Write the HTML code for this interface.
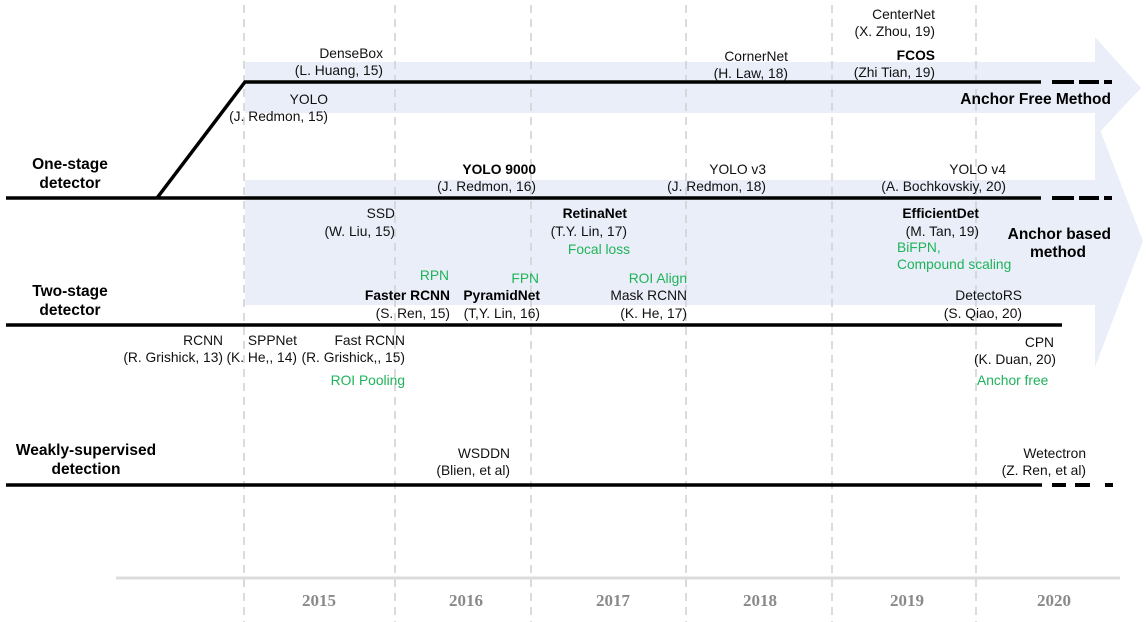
<!DOCTYPE html>
<html><head><meta charset="utf-8"><style>
html,body{margin:0;padding:0;background:#fff;}
svg{display:block;font-family:"Liberation Sans","Noto Sans CJK KR",sans-serif;}
.t{font-size:13.8px;fill:#111;}
.b{font-size:13.8px;font-weight:bold;fill:#000;}
.g{font-size:13.8px;fill:#1fb35a;}
.h{font-size:15.5px;font-weight:bold;fill:#000;}
.y{font-family:"Liberation Serif",serif;font-size:17px;font-weight:bold;fill:#8a8a8a;}
</style></head><body>
<svg width="1146" height="622" viewBox="0 0 1146 622">
<g fill="#e9eef8">
<polygon points="245,62 1095,62 1095,37 1141,88 1095,137 1095,113 245,113"/>
<polygon points="245,180 1095,180 1095,117 1143,241 1095,367 1095,305 245,305"/>
</g>
<g stroke="#cfcfcf" stroke-width="1.5" stroke-dasharray="8,6">
<line x1="244" y1="5" x2="244" y2="622"/><line x1="395" y1="5" x2="395" y2="622"/>
<line x1="531" y1="5" x2="531" y2="622"/><line x1="686" y1="5" x2="686" y2="622"/>
<line x1="832" y1="5" x2="832" y2="622"/><line x1="976" y1="5" x2="976" y2="622"/>
</g>
<g stroke="#000" stroke-width="3.5" fill="none">
<polyline points="157,198 245,82 1041,82"/>
<line x1="6" y1="198" x2="1041" y2="198"/>
<line x1="6" y1="325" x2="1062" y2="325"/>
<line x1="6" y1="485" x2="1042" y2="485"/>
</g>
<g stroke="#000" stroke-width="4">
<line x1="1052" y1="82" x2="1074" y2="82"/><line x1="1079" y1="82" x2="1099" y2="82"/><line x1="1104" y1="82" x2="1112" y2="82"/>
<line x1="1052" y1="198" x2="1074" y2="198"/><line x1="1079" y1="198" x2="1099" y2="198"/><line x1="1104" y1="198" x2="1112" y2="198"/>
<line x1="1052" y1="485" x2="1066" y2="485"/><line x1="1075" y1="485" x2="1090" y2="485"/><line x1="1105" y1="485" x2="1113" y2="485"/>
</g>
<line x1="116" y1="578" x2="1120" y2="578" stroke="#dcdcdc" stroke-width="3"/>
<g text-anchor="middle">
<text class="h" x="70" y="169">One-stage</text><text class="h" x="70" y="188">detector</text>
<text class="h" x="70" y="296">Two-stage</text><text class="h" x="70" y="315">detector</text>
<text class="h" x="86" y="455">Weakly-supervised</text><text class="h" x="86" y="474">detection</text>
</g>
<g text-anchor="end">
<text class="t" x="383" y="58">DenseBox</text><text class="t" x="383" y="75">(L. Huang, 15)</text>
<text class="t" x="328" y="104">YOLO</text><text class="t" x="328" y="121">(J. Redmon, 15)</text>
<text class="t" x="788" y="61">CornerNet</text><text class="t" x="788" y="78">(H. Law, 18)</text>
<text class="t" x="935" y="19">CenterNet</text><text class="t" x="935" y="36">(X. Zhou, 19)</text>
<text class="b" x="935" y="60">FCOS</text><text class="t" x="935" y="77">(Zhi Tian, 19)</text>
<text class="h" x="1111" y="104">Anchor Free Method</text>
<text class="b" x="536" y="174">YOLO 9000</text><text class="t" x="536" y="191">(J. Redmon, 16)</text>
<text class="t" x="766" y="174">YOLO v3</text><text class="t" x="766" y="191">(J. Redmon, 18)</text>
<text class="t" x="1006" y="174">YOLO v4</text><text class="t" x="1006" y="191">(A. Bochkovskiy, 20)</text>
<text class="t" x="395" y="218">SSD</text><text class="t" x="395" y="236">(W. Liu, 15)</text>
<text class="b" x="627" y="218">RetinaNet</text><text class="t" x="627" y="236">(T.Y. Lin, 17)</text>
<text class="g" x="630" y="254">Focal loss</text>
<text class="b" x="979" y="218">EfficientDet</text><text class="t" x="979" y="236">(M. Tan, 19)</text>
<text class="h" x="1111" y="239">Anchor based</text>
<text class="g" x="449" y="280">RPN</text><text class="g" x="539" y="283">FPN</text>
<text class="b" x="450" y="300">Faster RCNN</text><text class="t" x="450" y="318">(S. Ren, 15)</text>
<text class="b" x="540" y="300">PyramidNet</text><text class="t" x="540" y="318">(T,Y. Lin, 16)</text>
<text class="g" x="687" y="283">ROI Align</text>
<text class="t" x="687" y="300">Mask RCNN</text><text class="t" x="687" y="318">(K. He, 17)</text>
<text class="t" x="1022" y="300">DetectoRS</text><text class="t" x="1022" y="318">(S. Qiao, 20)</text>
<text class="t" x="223" y="345">RCNN</text><text class="t" x="223" y="362">(R. Grishick, 13)</text>
<text class="t" x="297" y="345">SPPNet</text><text class="t" x="297" y="362">(K. He,, 14)</text>
<text class="t" x="405" y="345">Fast RCNN</text><text class="t" x="405" y="362">(R. Grishick,, 15)</text>
<text class="g" x="405" y="385">ROI Pooling</text>
<text class="t" x="1054" y="347">CPN</text><text class="t" x="1056" y="364">(K. Duan, 20)</text>
<text class="t" x="510" y="458">WSDDN</text><text class="t" x="510" y="475">(Blien, et al)</text>
<text class="t" x="1086" y="458">Wetectron</text><text class="t" x="1086" y="475">(Z. Ren, et al)</text>
</g>
<text class="h" x="1058" y="257" text-anchor="middle">method</text>
<text class="g" x="897" y="268"><tspan x="897" y="252">BiFPN,</tspan><tspan x="897" y="269">Compound scaling</tspan></text>
<text class="g" x="977" y="385">Anchor free</text>
<g text-anchor="middle">
<text class="y" x="319" y="606">2015</text><text class="y" x="466" y="606">2016</text>
<text class="y" x="613" y="606">2017</text><text class="y" x="760" y="606">2018</text>
<text class="y" x="907" y="606">2019</text><text class="y" x="1054" y="606">2020</text>
</g>
</svg>
</body></html>
